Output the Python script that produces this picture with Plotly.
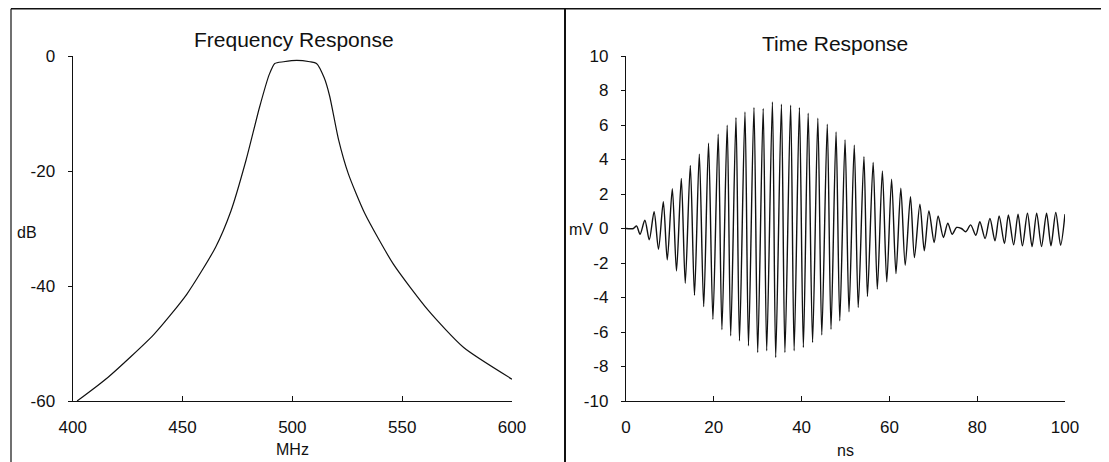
"""
Two-panel filter plot: frequency response (dB vs MHz) on the left and the
time response (mV vs ns) on the right, drawn in the plain scanned-report style.
"""
import plotly.graph_objects as go

# Frequency response
FREQ_MHZ = [402, 416, 437, 452, 465, 472, 479, 485, 489.5, 492, 496, 502,
            508, 511, 514.5, 517, 521, 525.5, 533, 546, 562, 578, 600]
FREQ_DB = [-60, -55.9, -48.4, -41.4, -33.3, -27, -18, -9, -3.2, -1.3, -1.0,
           -0.75, -1.0, -1.3, -3.8, -7, -14.5, -20.5, -27.4, -36.2, -44.3,
           -50.7, -56.2]

# Time response: start, then alternating peak / trough of each cycle
TIME_NS = [0, 1.7, 2.4, 3.2, 4.3, 5.3, 6.4, 7.4, 8.5, 9.4, 10.55, 11.5,
           12.6, 13.5, 14.65, 15.6, 16.7, 17.7, 18.8, 19.8, 21.0, 21.85,
           23.05, 23.85, 25.05, 25.85, 27.1, 27.9, 29.15, 30.0, 31.25, 32.05,
           33.35, 34.1, 35.4, 36.2, 37.5, 38.3, 39.5, 40.4, 41.5, 42.5,
           43.7, 44.6, 45.85, 46.7, 47.85, 48.7, 49.9, 50.8, 52.0, 52.9,
           54.2, 55.0, 56.3, 57.25, 58.4, 59.4, 60.5, 61.5, 62.6, 63.6,
           64.8, 65.7, 66.95, 67.95, 69.0, 70.2, 71.1, 72.3, 73.3, 74.3,
           75.3, 76.4, 77.4, 78.5, 79.7, 80.6, 81.8, 82.9, 84.05, 85.0,
           86.2, 87.1, 88.3, 89.3, 90.3, 91.45, 92.5, 93.55, 94.65, 95.8,
           96.8, 97.9, 99.0, 100.0]
TIME_MV = [0, 0, 0.15, -0.33, 0.48, -0.66, 0.97, -1.2, 1.55, -1.82, 2.3,
           -2.46, 2.9, -3.17, 3.65, -3.87, 4.3, -4.53, 4.95, -5.26, 5.47,
           -5.86, 5.99, -6.22, 6.43, -6.51, 6.76, -6.8, 7.02, -7.19, 6.96,
           -7.09, 7.34, -7.48, 7.21, -7.19, 7.15, -7.09, 7.01, -6.9, 6.68,
           -6.61, 6.4, -6.17, 6.05, -5.84, 5.6, -5.35, 5.14, -4.83, 4.83,
           -4.58, 4.16, -3.94, 3.83, -3.51, 3.34, -3.09, 2.86, -2.61, 2.34,
           -2.13, 1.85, -1.68, 1.41, -1.29, 1.02, -0.81, 0.73, -0.52, 0.31,
           -0.33, 0.06, 0.0, -0.19, 0.21, -0.39, 0.39, -0.58, 0.58, -0.71,
           0.73, -0.87, 0.79, -0.95, 0.83, -1.0, 0.88, -1.05, 0.89, -1.04,
           0.89, -1.0, 0.93, -0.97, 0.83]

FREQ_XTICKS = [400, 450, 500, 550, 600]
FREQ_YTICKS = [-60, -40, -20, 0]
TIME_XTICKS = [0, 20, 40, 60, 80, 100]
TIME_YTICKS = [-10, -8, -6, -4, -2, 0, 2, 4, 6, 8, 10]

# the page body keeps its 8px default margin, so the figure is drawn 8px
# in from the window corner; positions below are window pixels
PAGE_OFF = 8
W, H = 1109 - PAGE_OFF, 462 - PAGE_OFF
FONT = "Liberation Sans, Arial, sans-serif"
INK = "#111111"


def px_x(p):
    return (p - PAGE_OFF) / W


def px_y(p):
    return 1 - (p - PAGE_OFF) / H


def labels(vals):
    # plain hyphen minus, as in the scan
    return [str(v) for v in vals]


def main():
    fig = go.Figure()

    fig.add_trace(go.Scatter(
        x=FREQ_MHZ, y=FREQ_DB, mode="lines",
        line=dict(color=INK, width=1.2, shape="spline", smoothing=0.6),
        xaxis="x", yaxis="y", showlegend=False,
    ))
    fig.add_trace(go.Scatter(
        x=TIME_NS, y=TIME_MV, mode="lines",
        line=dict(color=INK, width=1.4, shape="spline", smoothing=0.8),
        xaxis="x2", yaxis="y2", showlegend=False,
    ))

    ydom = [px_y(401), px_y(56)]
    common = dict(
        showgrid=False, zeroline=False, showline=True, automargin=False,
        linecolor=INK, linewidth=1.3, tickcolor=INK, tickwidth=1.2,
        tickfont=dict(family=FONT, size=17, color=INK),
    )
    xcommon = dict(common, ticks="inside", ticklen=5, ticklabelstandoff=10)
    ycommon = dict(common, ticks="outside", ticklen=4, ticklabelstandoff=9)

    fig.update_layout(
        template="none",
        width=W, height=H,
        margin=dict(l=0, r=0, t=0, b=0),
        paper_bgcolor="white", plot_bgcolor="white",
        font=dict(family=FONT, color=INK),
        xaxis=dict(xcommon, domain=[px_x(72.7), px_x(512)], range=[400, 600],
                   tickvals=FREQ_XTICKS, ticktext=labels(FREQ_XTICKS),
                   anchor="y"),
        yaxis=dict(ycommon, domain=ydom, range=[-60, 0],
                   tickvals=FREQ_YTICKS, ticktext=labels(FREQ_YTICKS),
                   anchor="x"),
        xaxis2=dict(xcommon, domain=[px_x(626), px_x(1065)], range=[0, 100],
                    tickvals=TIME_XTICKS, ticktext=labels(TIME_XTICKS),
                    anchor="y2"),
        yaxis2=dict(ycommon, domain=ydom, range=[-10, 10],
                    tickvals=TIME_YTICKS, ticktext=labels(TIME_YTICKS),
                    anchor="x2"),
    )

    # titles and axis labels, placed where the scan has them
    texts = [
        ("Frequency Response", 294, 40, 21),
        ("Time Response", 835, 43, 21),
        ("MHz", 292, 449, 16),
        ("ns", 845, 450, 16),
        ("dB", 27, 233, 16),
        ("mV", 581, 229, 16),
    ]
    for txt, x, y, size in texts:
        fig.add_annotation(
            text=txt, x=px_x(x), y=px_y(y), xref="paper", yref="paper",
            xanchor="center", yanchor="middle", showarrow=False,
            font=dict(family=FONT, size=size, color=INK),
        )

    # panel frame: top rule, left edge and the divider between panels
    frame = [
        (px_x(11), px_y(8.8), 1.0, px_y(8.8), 1.5),
        (px_x(11), px_y(8.8), px_x(11), 0, 1.2),
        (px_x(565), px_y(8.8), px_x(565), 0, 2),
    ]
    for x0, y0, x1, y1, w in frame:
        fig.add_shape(type="line", x0=x0, y0=y0, x1=x1, y1=y1,
                      xref="paper", yref="paper",
                      line=dict(color=INK, width=w))

    fig.write_html("out.html")


if __name__ == "__main__":
    main()
